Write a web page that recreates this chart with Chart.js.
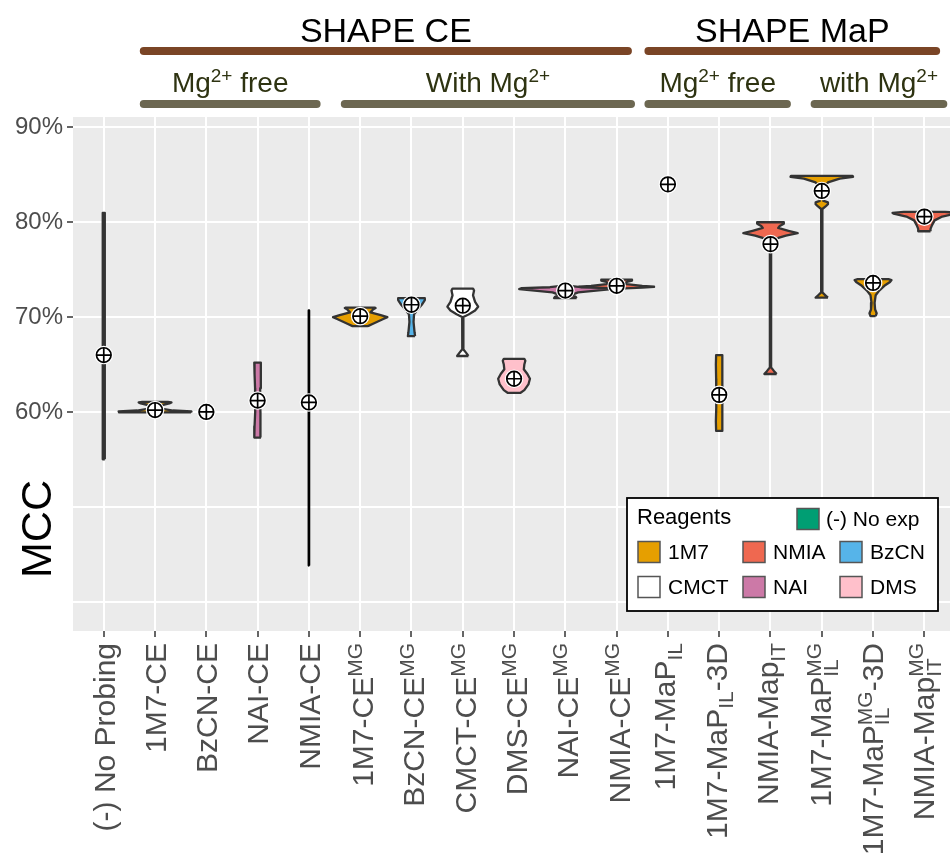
<!DOCTYPE html>
<html>
<head>
<meta charset="utf-8">
<script src="https://cdn.jsdelivr.net/npm/chart.js@4.4.1/dist/chart.umd.min.js"></script>
<style>
  html, body { margin: 0; padding: 0; background: #fff; overflow: hidden; }
</style>
</head>
<body>
<canvas id="mccChart" width="950" height="863"></canvas>
<script>
// ---- data ----
const categories = [
  "(-) No Probing", "1M7-CE", "BzCN-CE", "NAI-CE", "NMIA-CE",
  "1M7-CE^{MG}", "BzCN-CE^{MG}", "CMCT-CE^{MG}", "DMS-CE^{MG}", "NAI-CE^{MG}", "NMIA-CE^{MG}",
  "1M7-MaP_{IL}", "1M7-MaP_{IL}-3D", "NMIA-Map_{IT}",
  "1M7-MaP_{IL}^{MG}", "1M7-MaP_{IL}^{MG}-3D", "NMIA-Map_{IT}^{MG}"
];
const reagentOf = ["none", "1M7", "BzCN", "NAI", "NMIA", "1M7", "BzCN", "CMCT", "DMS", "NAI", "NMIA",
  "1M7", "1M7", "NMIA", "1M7", "1M7", "NMIA"];
const meanMCC = [66.0, 60.2, 60.0, 61.2, 61.0, 70.1, 71.3, 71.2, 63.5, 72.8, 73.3, 84.0, 61.8, 77.7, 83.3, 73.6, 80.6];

// violin outlines: [MCC value, half width in category units]
const violinShapes = [
  [[55.0, 0.02], [81.0, 0.02]],
  [[59.95, 0.7], [60.05, 0.71], [60.15, 0.35], [60.35, 0.12], [60.7, 0.12], [60.9, 0.28], [61.0, 0.32], [61.05, 0.25]],
  null,
  [[57.3, 0.065], [58.5, 0.06], [60.0, 0.05], [61.2, 0.045], [62.5, 0.05], [64.0, 0.06], [65.2, 0.065]],
  [[43.8, 0.004], [70.7, 0.004]],
  [[69.05, 0.15], [69.3, 0.25], [69.8, 0.45], [70.0, 0.53], [70.2, 0.4], [70.5, 0.2], [70.8, 0.25], [70.95, 0.3], [71.0, 0.28]],
  [[68.0, 0.07], [68.4, 0.06], [69.5, 0.04], [70.3, 0.05], [70.8, 0.12], [71.3, 0.2], [71.8, 0.26], [72.0, 0.26]],
  [[65.9, 0.11], [66.2, 0.07], [66.6, 0.01], [70.0, 0.012], [70.3, 0.12], [70.7, 0.24], [71.1, 0.3], [71.6, 0.24], [72.3, 0.2], [72.8, 0.22], [73.0, 0.2]],
  [[62.0, 0.12], [62.3, 0.2], [62.9, 0.28], [63.5, 0.31], [64.0, 0.26], [64.5, 0.19], [65.0, 0.2], [65.4, 0.22], [65.6, 0.2]],
  [[72.0, 0.22], [72.15, 0.2], [72.35, 0.12], [72.6, 0.25], [72.85, 0.7], [72.95, 0.9], [73.05, 0.85], [73.15, 0.3], [73.3, 0.08]],
  [[73.0, 0.05], [73.1, 0.5], [73.2, 0.73], [73.3, 0.5], [73.5, 0.15], [73.7, 0.2], [73.85, 0.3], [73.95, 0.3]],
  null,
  [[58.0, 0.06], [59.0, 0.065], [60.5, 0.06], [62.0, 0.055], [63.5, 0.06], [65.0, 0.065], [66.0, 0.06]],
  [[64.0, 0.12], [64.3, 0.07], [64.7, 0.012], [77.8, 0.012], [78.3, 0.12], [78.6, 0.3], [78.85, 0.53], [79.1, 0.35], [79.4, 0.15], [79.6, 0.18], [79.85, 0.26], [80.0, 0.26]],
  [[72.05, 0.12], [72.3, 0.07], [72.6, 0.012], [81.4, 0.012], [81.7, 0.08], [81.9, 0.12], [82.1, 0.12], [82.25, 0.04], [83.6, 0.03], [84.2, 0.12], [84.6, 0.35], [84.8, 0.61], [84.9, 0.6]],
  [[70.1, 0.05], [70.4, 0.07], [70.8, 0.04], [71.5, 0.03], [72.3, 0.05], [72.8, 0.12], [73.3, 0.22], [73.7, 0.33], [73.9, 0.36], [74.0, 0.3]],
  [[79.05, 0.12], [79.3, 0.12], [79.7, 0.15], [80.2, 0.2], [80.6, 0.35], [80.9, 0.6], [81.0, 0.62], [81.1, 0.4]]
];

const yTickValues = [60, 70, 80, 90];
const yTickLabels = ["60%", "70%", "80%", "90%"];

const methodGroups = ["SHAPE CE", "SHAPE MaP"];
const methodSpans = [[0.78, 10.22], [10.62, 16.23]];
const conditionGroups = ["Mg^{2+} free", "With Mg^{2+}", "Mg^{2+} free", "with Mg^{2+}"];
const conditionSpans = [[0.78, 4.15], [4.70, 10.28], [10.62, 13.32], [13.86, 16.37]];

const reagentColors = {
  none: "#009E73", "1M7": "#E69F00", NMIA: "#EF6850", BzCN: "#56B4E9",
  CMCT: "#FFFFFF", NAI: "#CC79A7", DMS: "#FFC0CB"
};
const legendLabels = { none: "(-) No exp", "1M7": "1M7", NMIA: "NMIA", BzCN: "BzCN", CMCT: "CMCT", NAI: "NAI", DMS: "DMS" };

const FONT = "'Liberation Sans', Arial, sans-serif";

// ---- rich text (super / subscripts) ----
function parseRich(s) {
  const out = [];
  const re = /([_^])\{([^}]*)\}/g;
  let last = 0, m;
  while ((m = re.exec(s))) {
    if (m.index > last) out.push({ t: "n", s: s.slice(last, m.index) });
    out.push({ t: m[1] === "^" ? "sup" : "sub", s: m[2] });
    last = re.lastIndex;
  }
  if (last < s.length) out.push({ t: "n", s: s.slice(last) });
  return out;
}

function layoutRich(ctx, text, size, ssize) {
  const toks = parseRich(text);
  const pieces = [];
  let x = 0, top = -0.716 * size, bottom = 0;
  const up = -0.36 * size, down = 0.22 * size;
  for (let i = 0; i < toks.length; i++) {
    const tk = toks[i];
    if (tk.t === "n") {
      ctx.font = size + "px " + FONT;
      pieces.push({ s: tk.s, x: x, dy: 0, size: size });
      x += ctx.measureText(tk.s).width;
    } else {
      ctx.font = ssize + "px " + FONT;
      let w = ctx.measureText(tk.s).width;
      const group = [tk];
      if (toks[i + 1] && toks[i + 1].t !== "n" && toks[i + 1].t !== tk.t) {
        group.push(toks[i + 1]);
        w = Math.max(w, ctx.measureText(toks[i + 1].s).width);
        i++;
      }
      group.forEach(g => {
        const dy = g.t === "sup" ? up : down;
        pieces.push({ s: g.s, x: x, dy: dy, size: ssize });
        if (g.t === "sup") top = Math.min(top, dy - 0.716 * ssize);
        else bottom = Math.max(bottom, dy);
      });
      x += w;
    }
  }
  return { pieces, width: x, top, bottom };
}

function drawPieces(ctx, lay, x0, base, color) {
  ctx.fillStyle = color;
  ctx.textAlign = "left";
  ctx.textBaseline = "alphabetic";
  lay.pieces.forEach(p => {
    ctx.font = p.size + "px " + FONT;
    ctx.fillText(p.s, x0 + p.x, base + p.dy);
  });
}

// ---- datasets ----
const violinSets = [];
violinShapes.forEach((shape, i) => {
  if (!shape) return;
  const pts = [];
  shape.forEach(([v, h]) => pts.push({ x: i + h, y: v }));
  shape.slice().reverse().forEach(([v, h]) => pts.push({ x: i - h, y: v }));
  pts.push(pts[0]);
  violinSets.push({
    data: pts,
    showLine: true,
    fill: "shape",
    backgroundColor: reagentColors[reagentOf[i]],
    borderColor: i === 4 ? "#000" : "#333333",
    borderWidth: 2.3,
    borderJoinStyle: "round",
    pointRadius: 0,
    order: 3
  });
});

const meanPts = meanMCC.map((v, i) => ({ x: i, y: v }));
const markerSets = [
  { data: meanPts, pointStyle: "cross", pointRadius: 7.3, borderColor: "#000", borderWidth: 1.7, backgroundColor: "#000", order: 0 },
  { data: meanPts, pointStyle: "circle", pointRadius: 7.3, borderColor: "#000", borderWidth: 1.7, backgroundColor: "#fff", order: 1 },
  { data: meanPts, pointStyle: "circle", pointRadius: 9.3, borderColor: "#fff", borderWidth: 0, backgroundColor: "#fff", order: 2 }
];

// ---- plugins ----
const panelBg = {
  id: "panelBg",
  beforeDraw(chart) {
    const { ctx, chartArea: a } = chart;
    ctx.save();
    ctx.fillStyle = "#fff";
    ctx.fillRect(0, 0, chart.width, chart.height);
    ctx.fillStyle = "#EBEBEB";
    ctx.fillRect(a.left, a.top, a.right - a.left, a.bottom - a.top);
    ctx.restore();
  }
};

const annotations = {
  id: "annotations",
  afterDraw(chart) {
    const ctx = chart.ctx;
    const xs = chart.scales.x;
    const a = chart.chartArea;
    ctx.save();

    // x labels, rotated
    categories.forEach((c, i) => {
      const lay = layoutRich(ctx, c, 30, 21);
      const px = xs.getPixelForValue(i);
      ctx.save();
      ctx.translate(px, a.bottom + 12);
      ctx.rotate(-Math.PI / 2);
      drawPieces(ctx, lay, -lay.width, -(lay.top + lay.bottom) / 2, "#4D4D4D");
      ctx.restore();
    });

    // y title
    ctx.save();
    ctx.translate(50.5, 529);
    ctx.rotate(-Math.PI / 2);
    ctx.font = "43px " + FONT;
    ctx.fillStyle = "#000";
    ctx.textAlign = "center";
    ctx.textBaseline = "alphabetic";
    ctx.fillText("MCC", 0, 0);
    ctx.restore();

    // group headers
    ctx.lineCap = "round";
    methodGroups.forEach((g, k) => {
      const x1 = xs.getPixelForValue(methodSpans[k][0]);
      const x2 = xs.getPixelForValue(methodSpans[k][1]);
      ctx.strokeStyle = "#7A4526";
      ctx.lineWidth = 8;
      ctx.beginPath(); ctx.moveTo(x1, 51); ctx.lineTo(x2, 51); ctx.stroke();
      const lay = layoutRich(ctx, g, 34, 23);
      drawPieces(ctx, lay, (x1 + x2) / 2 - lay.width / 2, 42, "#000");
    });
    conditionGroups.forEach((g, k) => {
      const x1 = xs.getPixelForValue(conditionSpans[k][0]);
      const x2 = xs.getPixelForValue(conditionSpans[k][1]);
      ctx.strokeStyle = "#6C6751";
      ctx.lineWidth = 8;
      ctx.beginPath(); ctx.moveTo(x1, 104); ctx.lineTo(x2, 104); ctx.stroke();
      const lay = layoutRich(ctx, g, 28, 19);
      drawPieces(ctx, lay, (x1 + x2) / 2 - lay.width / 2, 92, "#2E3311");
    });

    // legend
    ctx.fillStyle = "#fff";
    ctx.fillRect(627, 498, 311, 113);
    ctx.strokeStyle = "#000";
    ctx.lineWidth = 1.8;
    ctx.strokeRect(627, 498, 311, 113);
    ctx.fillStyle = "#000";
    ctx.font = "22px " + FONT;
    ctx.textAlign = "left";
    ctx.textBaseline = "middle";
    ctx.fillText("Reagents", 637, 518);
    const cells = [
      ["none", 797, 519],
      ["1M7", 638, 552], ["NMIA", 743, 552], ["BzCN", 840, 552],
      ["CMCT", 638, 587], ["NAI", 743, 587], ["DMS", 840, 587]
    ];
    cells.forEach(([key, kx, cy]) => {
      ctx.fillStyle = reagentColors[key];
      ctx.fillRect(kx, cy - 10.5, 22, 21);
      ctx.strokeStyle = "#555";
      ctx.lineWidth = 1.5;
      ctx.strokeRect(kx, cy - 10.5, 22, 21);
      ctx.fillStyle = "#000";
      ctx.font = "21px " + FONT;
      ctx.fillText(legendLabels[key], kx + (key === "none" ? 29 : 30), cy + 1);
    });

    ctx.restore();
  }
};

// ---- chart ----
new Chart(document.getElementById("mccChart"), {
  type: "scatter",
  data: { datasets: markerSets.concat(violinSets) },
  options: {
    responsive: false,
    animation: false,
    devicePixelRatio: 1,
    layout: { autoPadding: false, padding: { top: 117, left: 0, right: 0, bottom: 0 } },
    plugins: { legend: { display: false }, tooltip: { enabled: false } },
    scales: {
      x: {
        type: "linear",
        min: -0.6,
        max: 16.5,
        afterFit(s) { s.height = 232; },
        border: { display: false },
        grid: { color: "#fff", lineWidth: 2, drawTicks: true, tickLength: 6, tickColor: "#333", tickWidth: 1.5 },
        ticks: { display: false, stepSize: 1, autoSkip: false, includeBounds: false, maxTicksLimit: 100 }
      },
      y: {
        type: "linear",
        min: 36.9,
        max: 91.1,
        afterFit(s) { s.width = 73; },
        border: { display: false },
        grid: {
          color: "#fff", lineWidth: 2, tickLength: 6, tickWidth: 1.5,
          tickColor: c => (c.tick && yTickValues.indexOf(c.tick.value) >= 0 ? "#333" : "rgba(0,0,0,0)")
        },
        ticks: {
          stepSize: 10,
          includeBounds: false,
          padding: 4,
          color: "#4D4D4D",
          font: { family: FONT, size: 24 },
          callback: v => {
            const k = yTickValues.indexOf(v);
            return k < 0 ? "" : yTickLabels[k];
          }
        }
      }
    }
  },
  plugins: [panelBg, annotations]
});
</script>
</body>
</html>
